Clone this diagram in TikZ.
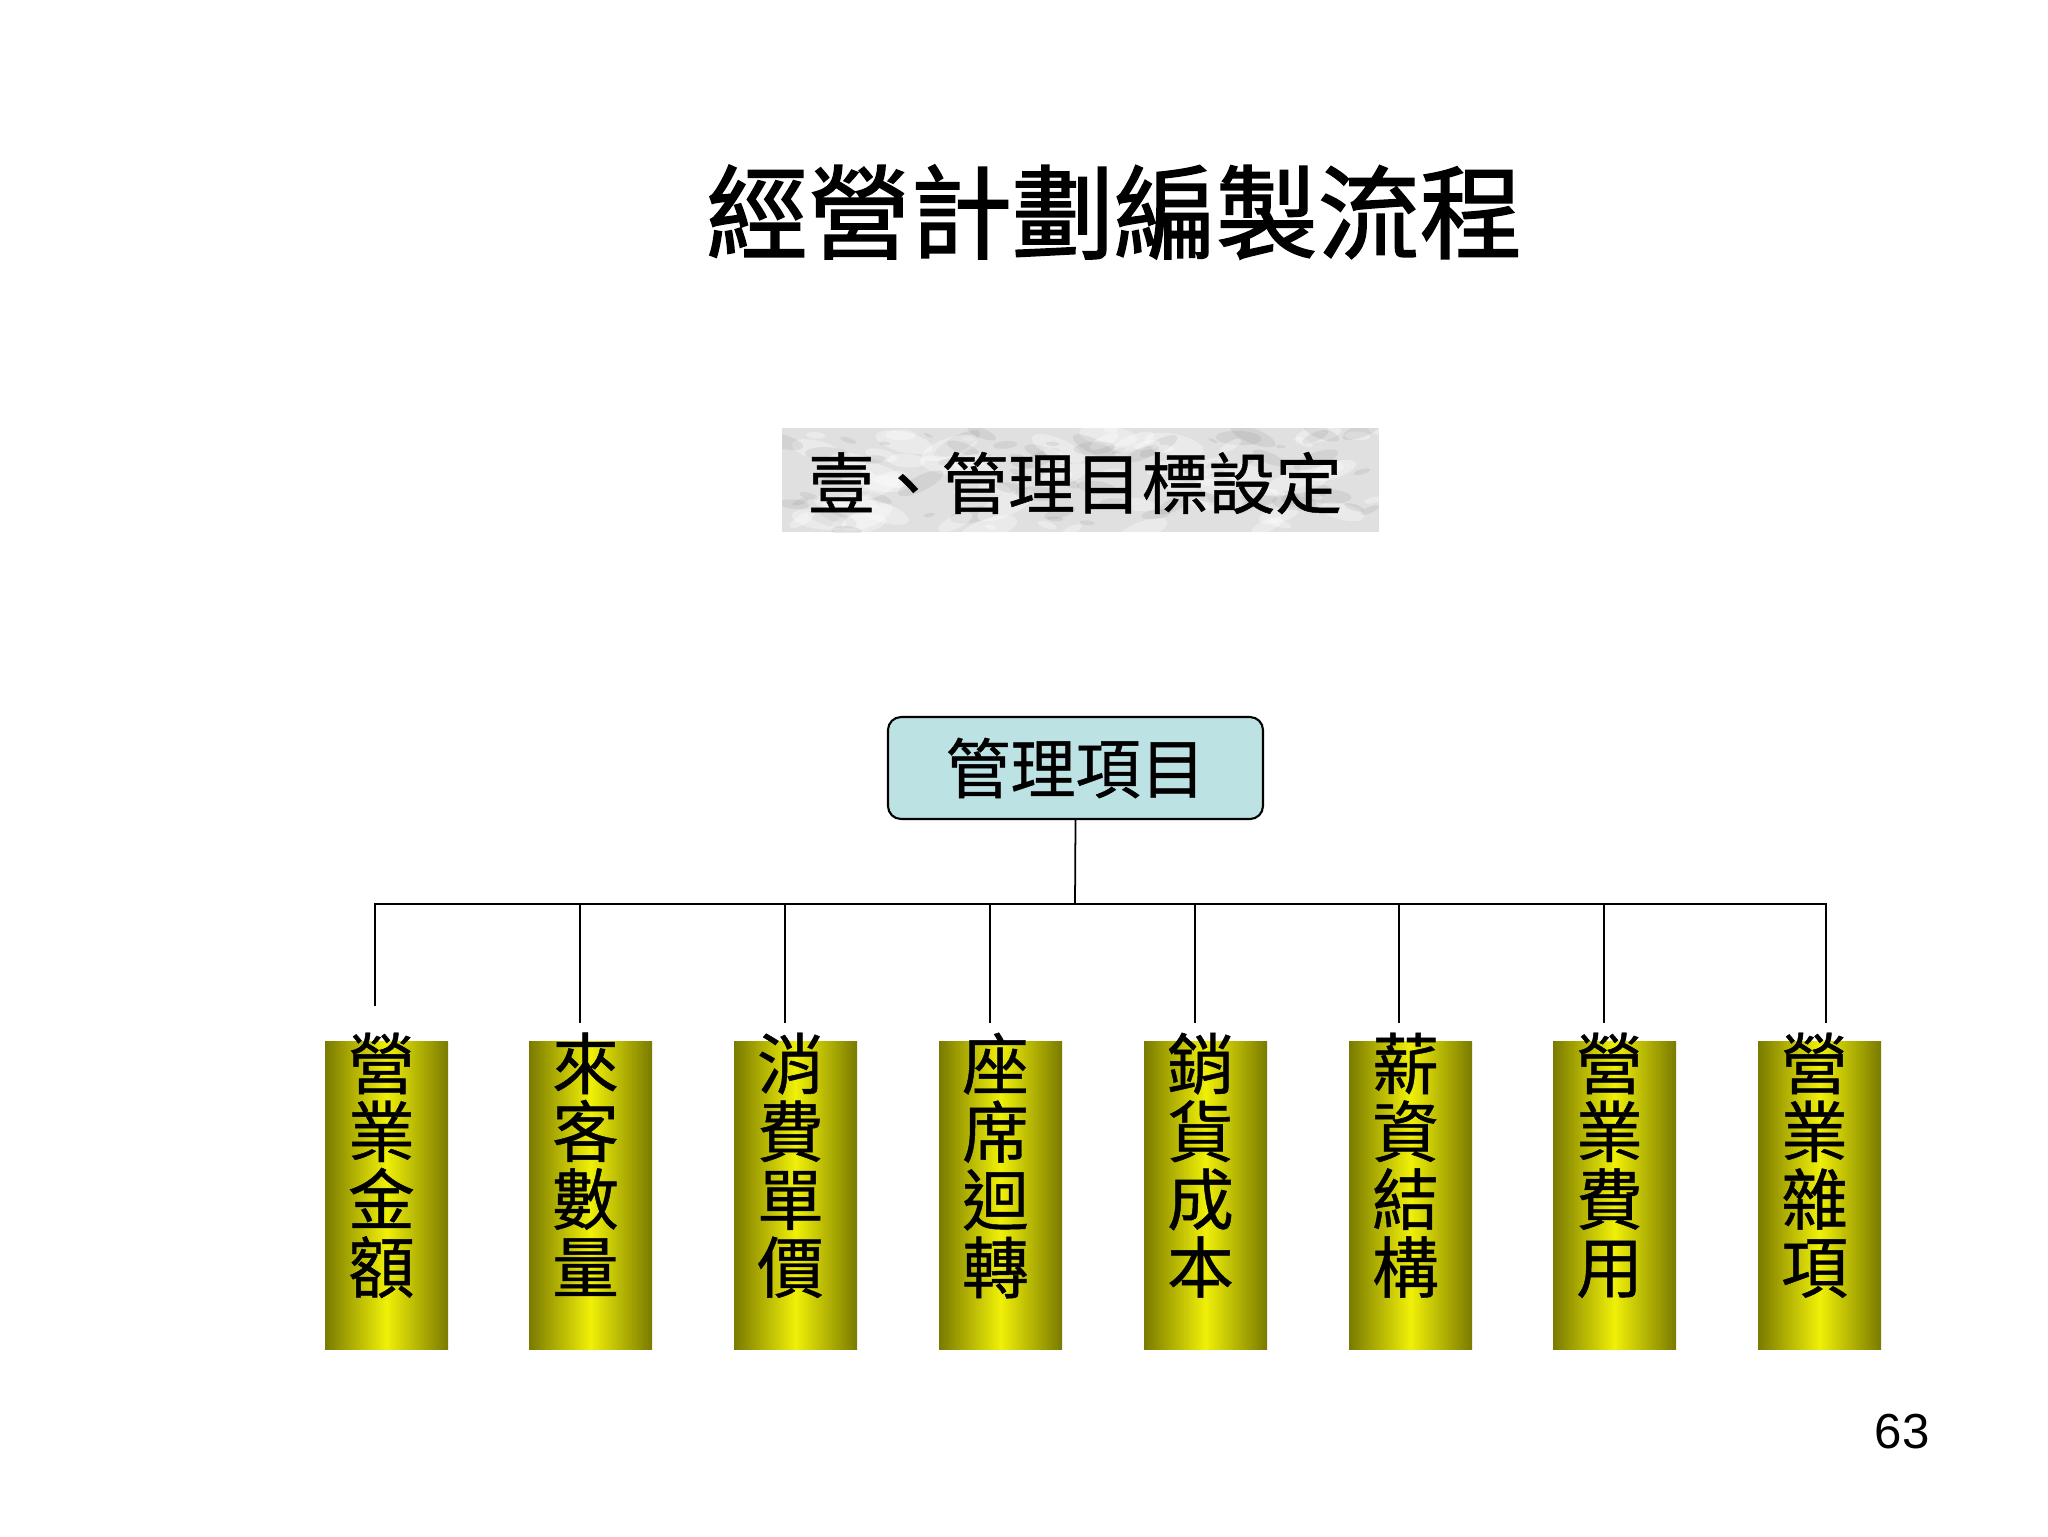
\documentclass[tikz,border=0pt]{standalone}
\usepackage{fontspec}
\setmainfont{Liberation Sans}
\newfontfamily\cjk{Noto Sans CJK TC}
\newfontfamily\cjkt[FakeBold=1.6]{Noto Sans CJK TC}
\newfontfamily\cjkm[FakeBold=0.7]{Noto Sans CJK TC}
\definecolor{rootfill}{RGB}{189,226,228}
\definecolor{leafedge}{RGB}{122,122,0}
\definecolor{leafmid}{RGB}{240,240,8}
\definecolor{marble}{RGB}{224,224,224}
\tikzset{
  leafbox/.style={minimum width=123*0.1mm, minimum height=308*0.1mm, inner sep=0pt,
    left color=leafedge, right color=leafedge, middle color=leafmid},
  leaftext/.style={anchor=north, inner sep=0pt, align=center,
    font=\cjkm\fontsize{19pt}{19.3pt}\selectfont},
  rootbox/.style={draw=black, line width=0.6pt, rounded corners=1.3mm, fill=rootfill,
    minimum width=375*0.1mm, minimum height=102*0.1mm, inner sep=0pt,
    font=\cjkm\fontsize{18.5pt}{20pt}\selectfont},
  conn/.style={draw=black, line width=0.5pt},
}
\begin{document}
\begin{tikzpicture}[x=0.1mm,y=-0.1mm]
\useasboundingbox (0,0) rectangle (2048,1536);
\fill[white] (0,0) rectangle (2048,1536);
% title
\node[font=\cjkt\fontsize{29pt}{30pt}\selectfont, inner sep=0pt] (title) at (1114,212) {經營計劃編製流程};
% marble subtitle box
\begin{scope}
\clip (782,428) rectangle (1379,532);
\fill[marble] (782,428) rectangle (1379,532);
\pgfmathsetseed{7}
\foreach \i in {1,...,140}{
  \pgfmathsetmacro{\xx}{782+597*rnd}
  \pgfmathsetmacro{\yy}{428+104*rnd}
  \pgfmathsetmacro{\rr}{6+26*rnd}
  \pgfmathsetmacro{\gg}{rnd}
  \pgfmathsetmacro{\aa}{-30+60*rnd}
  \ifdim \gg pt < 0.55pt
    \fill[white, opacity=0.35, rotate around={\aa:(\xx,\yy)}] (\xx,\yy) ellipse ({\rr} and {\rr*0.35});
  \else
    \fill[gray, opacity=0.14, rotate around={\aa:(\xx,\yy)}] (\xx,\yy) ellipse ({\rr*0.8} and {\rr*0.25});
  \fi
}
\end{scope}
\node[font=\cjkm\fontsize{19pt}{20pt}\selectfont, inner sep=0pt] (sub) at (1075,483) {壹、管理目標設定};
% root
\node[rootbox] (root) at (1075.5,768) {管理項目};
% leaves
\foreach \n/\x/\t in {1/386.5/營\\業\\金\\額, 2/590.5/來\\客\\數\\量, 3/795.5/消\\費\\單\\價, 4/1000.5/座\\席\\迴\\轉,
  5/1205.5/銷\\貨\\成\\本, 6/1410.5/薪\\資\\結\\構, 7/1614.5/營\\業\\費\\用, 8/1819.5/營\\業\\雜\\項}{
  \node[leafbox] (leaf\n) at (\x,1195) {};
  \node[leaftext] (lt\n) at (\x-5,1032) {\t};
}
% connectors
\coordinate (bus) at (1075,904);
\coordinate (t1) at (375,1006);
\coordinate (t2) at (580,1023);
\coordinate (t3) at (785,1023);
\coordinate (t4) at (990,1023);
\coordinate (t5) at (1195,1023);
\coordinate (t6) at (1399,1023);
\coordinate (t7) at (1604,1023);
\coordinate (t8) at (1826,1023);
\draw[conn] (root.south) -- (bus);
\draw[conn] (t1) -- (t1 |- bus) -- (t8 |- bus) -- (t8);
\foreach \k in {2,...,7}{ \draw[conn] (t\k |- bus) -- (t\k); }
% page number
\node[font=\fontsize{14pt}{16pt}\selectfont, inner sep=0pt] (pg) at (1902,1432) {63};
\end{tikzpicture}
\end{document}
